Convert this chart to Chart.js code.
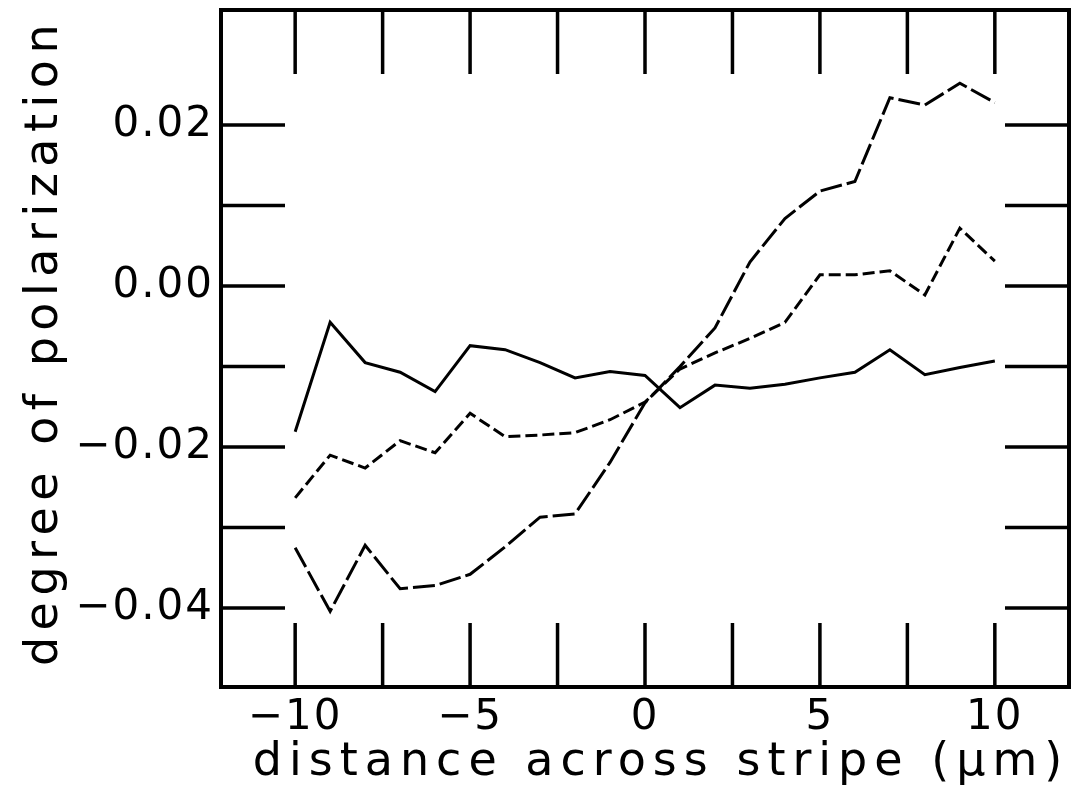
<!DOCTYPE html>
<html>
<head>
<meta charset="utf-8">
<script src="https://cdn.jsdelivr.net/npm/chart.js@4"></script>
<style>
  html, body { margin: 0; padding: 0; background: #fff; }
  #wrap { width: 1082px; height: 798px; position: relative; }
</style>
</head>
<body>
<div id="wrap"><canvas id="c"></canvas></div>
<script>
// distance across the stripe (µm)
const distances = [-10, -9, -8, -7, -6, -5, -4, -3, -2, -1, 0, 1, 2, 3, 4, 5, 6, 7, 8, 9, 10];

// degree of polarization, three profiles
const solidProfile = [-0.0181, -0.0045, -0.0095, -0.0107, -0.0131, -0.0074, -0.0079, -0.0095, -0.0114, -0.0106, -0.0111,
                      -0.0151, -0.0123, -0.0127, -0.0122, -0.0114, -0.0107, -0.0079, -0.0110, -0.0101, -0.0093];
const shortDashProfile = [-0.0263, -0.0210, -0.0226, -0.0192, -0.0207, -0.0158, -0.0187, -0.0185, -0.0182, -0.0166, -0.0144,
                          -0.0103, -0.0083, -0.0065, -0.0045, 0.0014, 0.0014, 0.0019, -0.0011, 0.0072, 0.0031];
const longDashProfile = [-0.0325, -0.0404, -0.0322, -0.0376, -0.0372, -0.0358, -0.0324, -0.0287, -0.0283, -0.0219, -0.0145,
                         -0.0100, -0.0052, 0.0030, 0.0084, 0.0118, 0.0130, 0.0234, 0.0225, 0.0252, 0.0228];

// ticks
const xTickValues = [-10, -7.5, -5, -2.5, 0, 2.5, 5, 7.5, 10];
const xTickLabels = ['\u221210', '', '\u22125', '', '0', '', '5', '', '10'];
const yTickValues = [-0.04, -0.03, -0.02, -0.01, 0, 0.01, 0.02];
const yTickLabels = ['\u22120.04', '', '\u22120.02', '', '0.00', '', '0.02'];

const xTitle = 'distance across stripe (\u03bcm)';
const yTitle = 'degree of polarization';

const FONT = "'DejaVu Sans', sans-serif";

function toPoints(values) {
  return distances.map((d, i) => ({ x: d, y: values[i] }));
}

// frame, inward tick marks and axis titles
const framePlugin = {
  id: 'frame',
  beforeDraw(chart) {
    const ctx = chart.ctx;
    ctx.save();
    ctx.fillStyle = '#fff';
    ctx.fillRect(0, 0, chart.width, chart.height);
    ctx.restore();
    ctx.letterSpacing = '2px';
  },
  afterDraw(chart) {
    const ctx = chart.ctx;
    const a = chart.chartArea;
    const xs = chart.scales.x, ys = chart.scales.y;
    ctx.save();
    ctx.letterSpacing = '0px';
    ctx.strokeStyle = '#000';
    ctx.lineWidth = 3.5;
    ctx.lineCap = 'butt';
    const tickLen = 64;
    ctx.beginPath();
    xs.ticks.forEach(t => {
      const px = xs.getPixelForValue(t.value);
      ctx.moveTo(px, a.bottom); ctx.lineTo(px, a.bottom - tickLen);
      ctx.moveTo(px, a.top); ctx.lineTo(px, a.top + tickLen);
    });
    ys.ticks.forEach(t => {
      const py = ys.getPixelForValue(t.value);
      ctx.moveTo(a.left, py); ctx.lineTo(a.left + tickLen, py);
      ctx.moveTo(a.right, py); ctx.lineTo(a.right - tickLen, py);
    });
    ctx.stroke();
    ctx.lineWidth = 4;
    ctx.strokeRect(a.left, a.top, a.right - a.left, a.bottom - a.top);

    // axis titles
    ctx.fillStyle = '#000';
    ctx.font = '46px ' + FONT;
    ctx.textAlign = 'center';
    ctx.textBaseline = 'alphabetic';
    ctx.letterSpacing = '7px';
    ctx.fillText(xTitle, 661, 775);
    ctx.translate(57, 345);
    ctx.rotate(-Math.PI / 2);
    ctx.letterSpacing = '6.5px';
    ctx.fillText(yTitle, 3, 0);
    ctx.restore();
  }
};

new Chart(document.getElementById('c'), {
  type: 'line',
  data: {
    datasets: [
      { data: toPoints(solidProfile), borderColor: '#000', borderWidth: 3, pointRadius: 0, tension: 0, fill: false },
      { data: toPoints(shortDashProfile), borderColor: '#000', borderWidth: 3, borderDash: [12, 5], pointRadius: 0, tension: 0, fill: false },
      { data: toPoints(longDashProfile), borderColor: '#000', borderWidth: 3, borderDash: [22, 5], pointRadius: 0, tension: 0, fill: false }
    ]
  },
  options: {
    responsive: true,
    maintainAspectRatio: false,
    animation: false,
    devicePixelRatio: 1,
    layout: { padding: { left: 0, top: 10, right: 13, bottom: 0 } },
    plugins: { legend: { display: false }, tooltip: { enabled: false }, title: { display: false } },
    scales: {
      x: {
        type: 'linear',
        min: -12.12,
        max: 12.12,
        afterBuildTicks(scale) { scale.ticks = xTickValues.map(v => ({ value: v })); },
        afterFit(scale) { scale.height = 111; scale.paddingLeft = 0; scale.paddingRight = 0; },
        grid: { display: false, drawTicks: false },
        border: { display: false },
        ticks: {
          autoSkip: false,
          maxRotation: 0,
          padding: 6,
          color: '#000',
          font: { family: FONT, size: 42 },
          callback: (v, i) => xTickLabels[i]
        }
      },
      y: {
        type: 'linear',
        min: -0.0498,
        max: 0.0343,
        afterBuildTicks(scale) { scale.ticks = yTickValues.map(v => ({ value: v })); },
        afterFit(scale) { scale.width = 221; scale.paddingTop = 0; scale.paddingBottom = 0; },
        grid: { display: false, drawTicks: false },
        border: { display: false },
        ticks: {
          autoSkip: false,
          padding: 7,
          color: '#000',
          font: { family: FONT, size: 42 },
          callback: (v, i) => yTickLabels[i]
        }
      }
    }
  },
  plugins: [framePlugin]
});
</script>
</body>
</html>
